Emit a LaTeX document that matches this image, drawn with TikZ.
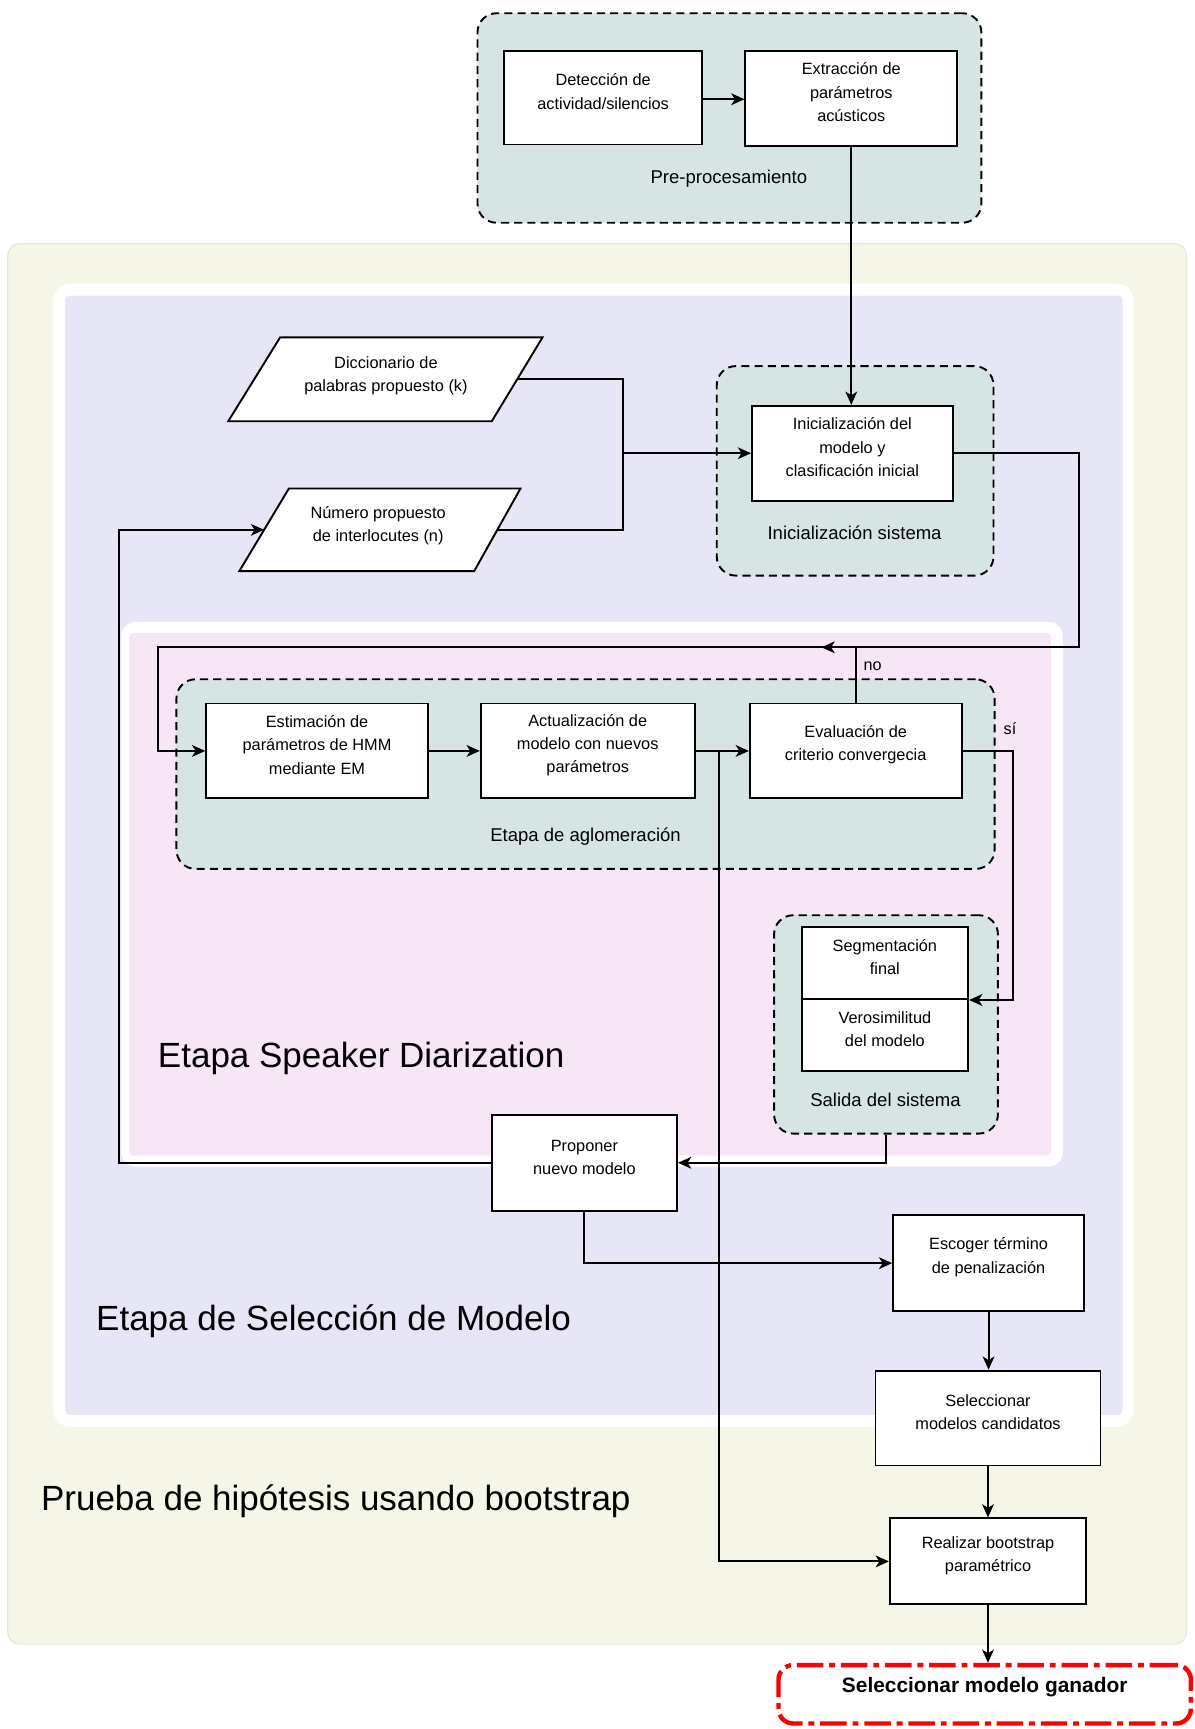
\documentclass[tikz,border=0pt]{standalone}
\usepackage{fontspec}
\setmainfont{Liberation Sans}
\usetikzlibrary{arrows.meta,fit}
\definecolor{beige}{RGB}{245,245,232}
\definecolor{beigeline}{RGB}{230,230,216}
\definecolor{lav}{RGB}{231,230,246}
\definecolor{pinkbg}{RGB}{247,230,246}
\definecolor{grp}{RGB}{215,228,228}
\begin{document}
\begin{tikzpicture}[x=0.75pt,y=-0.75pt,
  box/.style={draw=black, fill=white, line width=1.3pt, inner sep=0pt, align=center, font=\fontsize{11.1}{15.75}\selectfont},
  grpbox/.style={draw=black, fill=grp, line width=1.3pt, dash pattern=on 5.5pt off 3.5pt, rounded corners=13pt, inner sep=0pt},
  grplbl/.style={font=\fontsize{12.6}{15}\selectfont, inner sep=0pt},
  biglbl/.style={font=\fontsize{23.8}{28}\selectfont, inner sep=0pt, anchor=west},
  txt/.style={inner sep=0pt, align=center, font=\fontsize{11.1}{15.75}\selectfont},
  wire/.style={line width=1.3pt, draw=black},
  arr/.style={wire, -{Stealth[length=9pt,width=8pt,inset=2.5pt]}},
  smalllbl/.style={font=\fontsize{11}{13}\selectfont, inner sep=0pt, anchor=west},
  ganbox/.style={draw=red, line width=3pt, dash pattern=on 18pt off 4pt on 4pt off 4pt, rounded corners=10pt, fill=white, inner sep=0pt, font=\bfseries\fontsize{14.2}{17}\selectfont},
]
\fill[white] (0,0) rectangle (1083.7,1568);
\useasboundingbox (0,0) rectangle (1083.7,1568);

% regions
\filldraw[fill=beige, draw=beigeline, line width=0.8pt, rounded corners=8pt] (7,221) rectangle (1076,1491);
\fill[white, rounded corners=12pt] (48,257) rectangle (1028,1294);
\fill[lav, rounded corners=3pt] (59,268) rectangle (1018,1283);
\fill[white, rounded corners=10pt] (110,564) rectangle (964,1058);
\fill[pinkbg, rounded corners=3pt] (117,574) rectangle (953,1048);

\node[biglbl] (lblsd) at (143,960) {Etapa Speaker Diarization};
\node[biglbl] (lblsel) at (87,1198) {Etapa de Selección de Modelo};
\node[biglbl] (lblpru) at (37,1361) {Prueba de hipótesis usando bootstrap};

% groups
\node[grpbox, fit={(433,12) (890,202)}] (gpre) {};
\node[grplbl] (lpre) at (661,162) {Pre-procesamiento};
\node[grpbox, fit={(650,332) (901,522)}] (ginit) {};
\node[grplbl] (linit) at (775,483) {Inicialización sistema};
\node[grpbox, fit={(160,616) (902,788)}] (gagl) {};
\node[grplbl] (lagl) at (531,759) {Etapa de aglomeración};
\node[grpbox, fit={(702,830) (905,1028)}] (gsal) {};
\node[grplbl] (lsal) at (803,997) {Salida del sistema};

% boxes
\node[box, fit={(457,46) (637,131)}] (det) {Detección de\\actividad/silencios};
\node[box, fit={(676,46) (868,132)}] (ext) {Extracción de\\parámetros\\acústicos};
\node[box, fit={(682,368) (864,454)}] (init) {Inicialización del\\modelo y\\clasificación inicial};
\node[box, fit={(187,638) (388,724)}] (estim) {Estimación de\\parámetros de HMM\\mediante EM};
\node[box, fit={(436,638) (630,724)}] (actu) {Actualización de\\modelo con nuevos\\parámetros};
\node[box, fit={(680,638) (872,724)}] (eval) {Evaluación de\\criterio convergecia};
\node[box, fit={(727,841) (878,906)}] (segm) {Segmentación\\final};
\node[box, fit={(727,906) (878,971)}] (vero) {Verosimilitud\\del modelo};
\node[box, fit={(446,1011) (614,1098)}] (prop) {Proponer\\nuevo modelo};
\node[box, fit={(810,1102) (983,1189)}] (esc) {Escoger término\\de penalización};
\node[box, fit={(794,1243) (998,1329)}] (sel) {Seleccionar\\modelos candidatos};
\node[box, fit={(807,1377) (985,1455)}] (real) {Realizar bootstrap\\paramétrico};
\node[ganbox, fit={(706,1510) (1080,1563)}] (gan) {Seleccionar modelo ganador};

% parallelograms
\draw[wire, fill=white] (254,306) -- (492,306) -- (446,382) -- (207,382) -- cycle;
\node[txt] (dicc) at (350,341) {Diccionario de\\palabras propuesto (k)};
\coordinate (dicce) at (469,344);
\draw[wire, fill=white] (262,443) -- (472,443) -- (430,518) -- (217,518) -- cycle;
\node[txt] (num) at (343,477) {Número propuesto\\de interlocutes (n)};
\coordinate (nume) at (451,480.5);
\coordinate (numw) at (239.5,480.5);

% connectors
\draw[arr] (det.east |- 0,90) -- (ext.west |- 0,90);
\draw[arr] (ext.south) -- (ext.south |- init.north);
\coordinate (j1) at (565,411);
\draw[wire] (dicce) -| (j1);
\draw[wire] (nume) -| (j1);
\draw[arr] (j1) -- (init.west);
\coordinate (noend) at (745,587);
\draw[arr] (init.east) -- ++(114,0) |- (noend);
\coordinate (loopl) at (143,587);
\draw[arr] (eval.north) |- (loopl) |- (estim.west);
\node[smalllbl] (lno) at (783,604) {no};
\draw[arr] (estim.east) -- (actu.west);
\draw[arr] (actu.east) -- (eval.west);
\draw[arr] (actu.east) -- ++(21,0) |- (real.west);
\draw[arr] (eval.east) -- ++(46,0) |- (segm.south east);
\node[smalllbl] (lsi) at (910,661) {sí};
\draw[arr] (gsal.south) |- (prop.east);
\coordinate (rail) at (108,700);
\draw[arr] (prop.west) -- (prop.west -| rail) |- (numw);
\draw[arr] (prop.south) |- (esc.west);
\draw[arr] (esc.south) -- (esc.south |- sel.north);
\draw[arr] (sel.south) -- (sel.south |- real.north);
\draw[arr] (real.south) -- (real.south |- gan.north);
\end{tikzpicture}
\end{document}
